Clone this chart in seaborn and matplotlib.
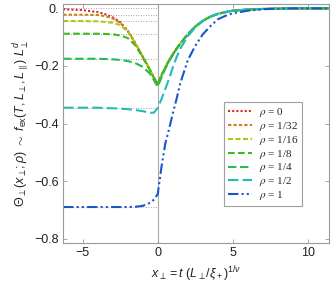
import numpy as np
import matplotlib
matplotlib.use('Agg')
import matplotlib.pyplot as plt
from matplotlib.font_manager import FontProperties
import seaborn as sns

# values
x_vals = [-6.3, -5, -4, -3.5, -3, -2.5, -2, -1.5, -1, -0.5, -0.25, 0, 0.25, 0.5, 0.75,
          1, 1.25, 1.5, 2, 2.5, 3, 3.5, 4, 4.5, 5, 6, 7, 8, 9, 11.4]

theta_0 = [-0.003, -0.006, -0.013, -0.02, -0.031, -0.048, -0.078, -0.12, -0.168, -0.215, -0.24, -0.262,
           -0.232, -0.205, -0.18, -0.16, -0.14, -0.122, -0.09, -0.063, -0.043, -0.029, -0.019,
           -0.013, -0.008, -0.004, -0.002, -0.001, 0.0, 0.0]
theta_1_32 = [-0.022, -0.022, -0.023, -0.027, -0.035, -0.05, -0.078, -0.12, -0.168, -0.215, -0.24, -0.262,
              -0.232, -0.205, -0.18, -0.16, -0.14, -0.122, -0.09, -0.063, -0.043, -0.029, -0.019,
              -0.013, -0.008, -0.004, -0.002, -0.001, 0.0, 0.0]
theta_1_16 = [-0.044, -0.044, -0.045, -0.047, -0.05, -0.058, -0.08, -0.12, -0.168, -0.215, -0.24, -0.262,
              -0.232, -0.205, -0.18, -0.16, -0.14, -0.122, -0.09, -0.063, -0.043, -0.029, -0.019,
              -0.013, -0.008, -0.004, -0.002, -0.001, 0.0, 0.0]
theta_1_8 = [-0.088, -0.088, -0.088, -0.089, -0.09, -0.094, -0.103, -0.128, -0.17, -0.217, -0.243, -0.264,
             -0.233, -0.206, -0.181, -0.16, -0.14, -0.122, -0.09, -0.063, -0.043, -0.029, -0.019,
             -0.013, -0.008, -0.004, -0.002, -0.001, 0.0, 0.0]
theta_1_4 = [-0.175, -0.175, -0.175, -0.176, -0.177, -0.179, -0.183, -0.19, -0.203, -0.228, -0.25, -0.272,
             -0.24, -0.21, -0.184, -0.162, -0.141, -0.122, -0.09, -0.063, -0.043, -0.029, -0.019,
             -0.013, -0.008, -0.004, -0.002, -0.001, 0.0, 0.0]
theta_1_2 = [-0.345, -0.345, -0.345, -0.346, -0.347, -0.348, -0.35, -0.353, -0.357, -0.363, -0.362, -0.345,
             -0.315, -0.28, -0.245, -0.205, -0.17, -0.14, -0.097, -0.066, -0.044, -0.029, -0.019,
             -0.013, -0.008, -0.004, -0.002, -0.001, 0.0, 0.0]
theta_1 = [-0.69, -0.69, -0.69, -0.69, -0.69, -0.69, -0.69, -0.689, -0.686, -0.675, -0.664, -0.645,
           -0.55, -0.47, -0.42, -0.365, -0.315, -0.26, -0.18, -0.13, -0.09, -0.062, -0.038,
           -0.026, -0.017, -0.008, -0.003, -0.001, 0.0, 0.0]

# bulk limits (dotted guides on the left)
plateaus = [0.0, -0.022, -0.044, -0.088, -0.175, -0.345, -0.69]

labels = [r'$\rho$ = 0', r'$\rho$ = 1/32', r'$\rho$ = 1/16', r'$\rho$ = 1/8',
          r'$\rho$ = 1/4', r'$\rho$ = 1/2', r'$\rho$ = 1']
series = [theta_0, theta_1_32, theta_1_16, theta_1_8, theta_1_4, theta_1_2, theta_1]
colors = ['#d42a2a', '#cc8418', '#aacc10', '#3cbb18', '#22bb55', '#22bbbb', '#1a55cc']
styles = [(0, (1, 1)), (0, (1.6, 1)), (0, (2.4, 1.2)), (0, (3.2, 1.6)),
          (0, (4, 1.8)), (0, (5, 2)), (0, (5, 1.5, 1, 1.5, 1, 1.5))]

sns.set_style('ticks')
plt.rcParams['font.family'] = ['Liberation Sans', 'DejaVu Sans']
plt.rcParams['mathtext.fontset'] = 'custom'
plt.rcParams['mathtext.rm'] = 'Liberation Sans'
plt.rcParams['mathtext.it'] = 'Liberation Sans:italic'

fig = plt.figure(figsize=(3.34, 2.90), dpi=100)
ax = fig.add_axes([0.189, 0.162, 0.796, 0.824])

ax.axvline(0, color='#aaaaaa', lw=0.8, zorder=0)
for p in plateaus:
    ax.plot([-6.3, 0], [p, p], color='#888888', lw=0.6, ls=(0, (1, 2)), zorder=0)

for ys, lab, c, st in zip(series, labels, colors, styles):
    sns.lineplot(x=x_vals, y=ys, sort=False, color=c, linestyle=st, lw=1.5,
                 label=lab, ax=ax)

ax.set_xlim(-6.3, 11.4)
ax.set_ylim(-0.815, 0.015)
ax.set_xticks([-5, 0, 5, 10])
ax.set_yticks([0, -0.2, -0.4, -0.6, -0.8])
ax.set_yticklabels(['0.', '\u22120.2', '\u22120.4', '\u22120.6', '\u22120.8'])
ax.set_xticklabels(['\u22125', '0', '5', '10'])
ax.tick_params(direction='in', length=3, width=0.6, color='#999999', labelsize=9,
               labelcolor='#222222', top=True, right=True, pad=3)
for s in ax.spines.values():
    s.set_color('#999999')
    s.set_linewidth(0.8)

ax.set_xlabel(r'$x_\perp = t\ (L_\perp/\xi_+)^{1/\nu}$', fontsize=9, color='#222222')
ax.set_ylabel(r'$\Theta_\perp(x_\perp;\rho)\ \sim\ f_{\mathrm{ex}}(T,L_\perp,L_\parallel)\ L_\perp^d$',
              fontsize=9, color='#222222', labelpad=2)

leg_font = FontProperties(family='Liberation Serif', size=8, math_fontfamily='stix')
leg = ax.legend(loc='upper left', bbox_to_anchor=(0.605, 0.59), prop=leg_font,
                frameon=True, fancybox=False, handlelength=2.2, handletextpad=0.6,
                labelspacing=0.08, borderpad=0.35, borderaxespad=0)
leg.get_frame().set_edgecolor('#888888')
leg.get_frame().set_linewidth(0.8)

fig.savefig('out.png', dpi=100)
